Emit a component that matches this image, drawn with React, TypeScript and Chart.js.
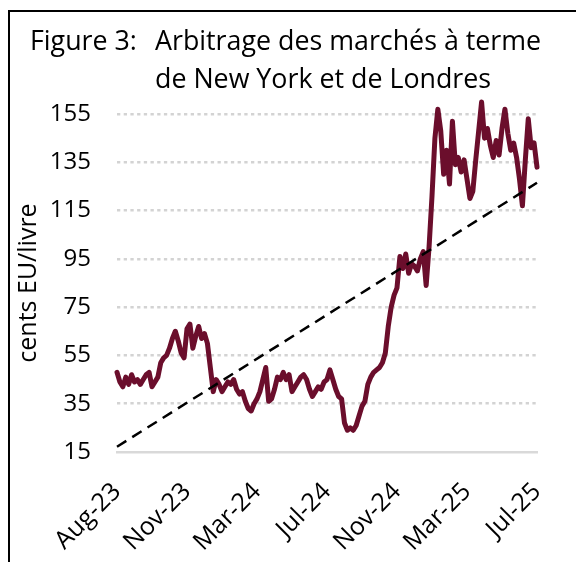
import React, { useEffect, useRef } from 'react';
import { Chart, registerables } from 'chart.js';

Chart.register(...registerables);

// ---- Data ----
const tickLabels = ['Aug-23', 'Nov-23', 'Mar-24', 'Jul-24', 'Nov-24', 'Mar-25', 'Jul-25'];
const pointsPerTick = 24;

// NY - London arbitrage, cents EU/livre (sampled roughly every 5 days)
const arbitrageSpread = [
  48, 44, 42, 46, 43, 47, 44, 45, 43, 45,
  47, 48, 42, 44, 46, 52, 54, 55, 58, 62,
  65, 61, 56, 54, 66, 68, 58, 63, 67, 62,
  64, 60, 50, 40, 45, 43, 40, 42, 44, 43,
  45, 41, 39, 40, 36, 33, 32, 35, 37, 40,
  45, 50, 36, 37, 41, 46, 45, 48, 45, 47,
  40, 42, 44, 46, 47, 45, 41, 38, 40, 42,
  41, 44, 45, 49, 45, 41, 38, 37, 27, 24,
  25, 24, 26, 30, 34, 36, 43, 46, 48, 49,
  50, 52, 56, 67, 75, 80, 83, 96, 91, 97,
  89, 93, 92, 90, 95, 98, 84, 100, 121, 145,
  157, 148, 130, 140, 126, 152, 134, 137, 131, 136,
  128, 120, 123, 136, 148, 160, 145, 149, 142, 137,
  144, 138, 149, 157, 147, 140, 143, 137, 128, 117,
  136, 153, 141, 143, 133,
];

const trendStart = 17.2;
const trendEnd = 126.5;

const yMin = 15;
const yMax = 155;
const yStep = 20;

const titleLead = 'Figure 3:';
const titleLine1 = 'Arbitrage des marchés à terme';
const titleLine2 = 'de New York et de Londres';
const yAxisTitle = 'cents EU/livre';

const FONT = '"Open Sans", Lato, sans-serif';

const titlePlugin = {
  id: 'customTitle',
  afterDraw(chart: any) {
    const ctx = chart.ctx;
    ctx.save();
    ctx.fillStyle = '#000';
    ctx.font = `26.8px ${FONT}`;
    ctx.textBaseline = 'alphabetic';
    ctx.textAlign = 'left';
    ctx.fillText(titleLead, 30, 50);
    ctx.fillText(titleLine1, 155, 50);
    ctx.fillText(titleLine2, 155, 88);
    ctx.restore();
  },
};

export default function App() {
  const canvasRef = useRef<HTMLCanvasElement | null>(null);

  useEffect(() => {
    if (!canvasRef.current) return;
    const lastIndex = arbitrageSpread.length - 1;
    const chart = new Chart(canvasRef.current, {
      type: 'line',
      data: {
        datasets: [
          {
            label: 'Tendance',
            data: [
              { x: 0, y: trendStart },
              { x: lastIndex, y: trendEnd },
            ],
            borderColor: '#000',
            borderWidth: 2.5,
            borderDash: [11, 7],
            pointRadius: 0,
            fill: false,
            clip: false as any,
          },
          {
            label: 'Arbitrage',
            data: arbitrageSpread.map((v, i) => ({ x: i, y: v })),
            borderColor: '#6b0e2c',
            borderWidth: 5,
            borderJoinStyle: 'round',
            borderCapStyle: 'round',
            pointRadius: 0,
            tension: 0,
            fill: false,
            clip: false as any,
          },
        ],
      },
      options: {
        responsive: false,
        animation: false,
        events: [],
        layout: { padding: { top: 114, right: 39, left: 0, bottom: 0 } },
        plugins: {
          legend: { display: false },
          tooltip: { enabled: false },
          title: { display: false },
        },
        scales: {
          x: {
            type: 'linear',
            min: 0,
            max: lastIndex,
            grid: { display: false, drawTicks: false },
            border: { display: true, color: '#d9d9d9', width: 2.5 },
            ticks: {
              stepSize: pointsPerTick,
              autoSkip: false,
              maxRotation: 45,
              minRotation: 45,
              padding: 25,
              color: '#000',
              font: { family: FONT, size: 25 },
              callback: (v: any) => {
                const idx = Math.round(Number(v) / pointsPerTick);
                return tickLabels[idx] ?? '';
              },
            },
            afterFit: (scale: any) => {
              scale.height = 110;
              scale.paddingLeft = 0;
              scale.paddingRight = 0;
            },
          },
          y: {
            type: 'linear',
            min: yMin,
            max: yMax,
            border: { display: false, dash: [3.3, 3.4] },
            grid: {
              drawTicks: false,
              lineWidth: 2.5,
              color: (c: any) => (c.tick && c.tick.value === yMin ? 'rgba(0,0,0,0)' : '#d3d3d3'),
            },
            ticks: {
              stepSize: yStep,
              padding: 26,
              color: '#000',
              font: { family: FONT, size: 24 },
            },
            title: {
              display: true,
              text: yAxisTitle,
              color: '#000',
              font: { family: FONT, size: 25 },
              padding: { top: 14, bottom: 0 },
            },
            afterFit: (scale: any) => {
              scale.width = 117;
            },
          },
        },
      },
      plugins: [titlePlugin],
    });
    return () => chart.destroy();
  }, []);

  return (
    <div style={{ position: 'fixed', left: 0, top: 0, width: 576, height: 562, background: '#fff', overflow: 'hidden' }}>
      <canvas ref={canvasRef} width={576} height={562} style={{ display: 'block' }} />
      <div
        style={{
          position: 'absolute',
          left: 8,
          top: 10,
          width: 570,
          height: 560,
          borderTop: '2px solid #000',
          borderLeft: '2px solid #000',
          boxSizing: 'border-box',
          pointerEvents: 'none',
        }}
      />
    </div>
  );
}
